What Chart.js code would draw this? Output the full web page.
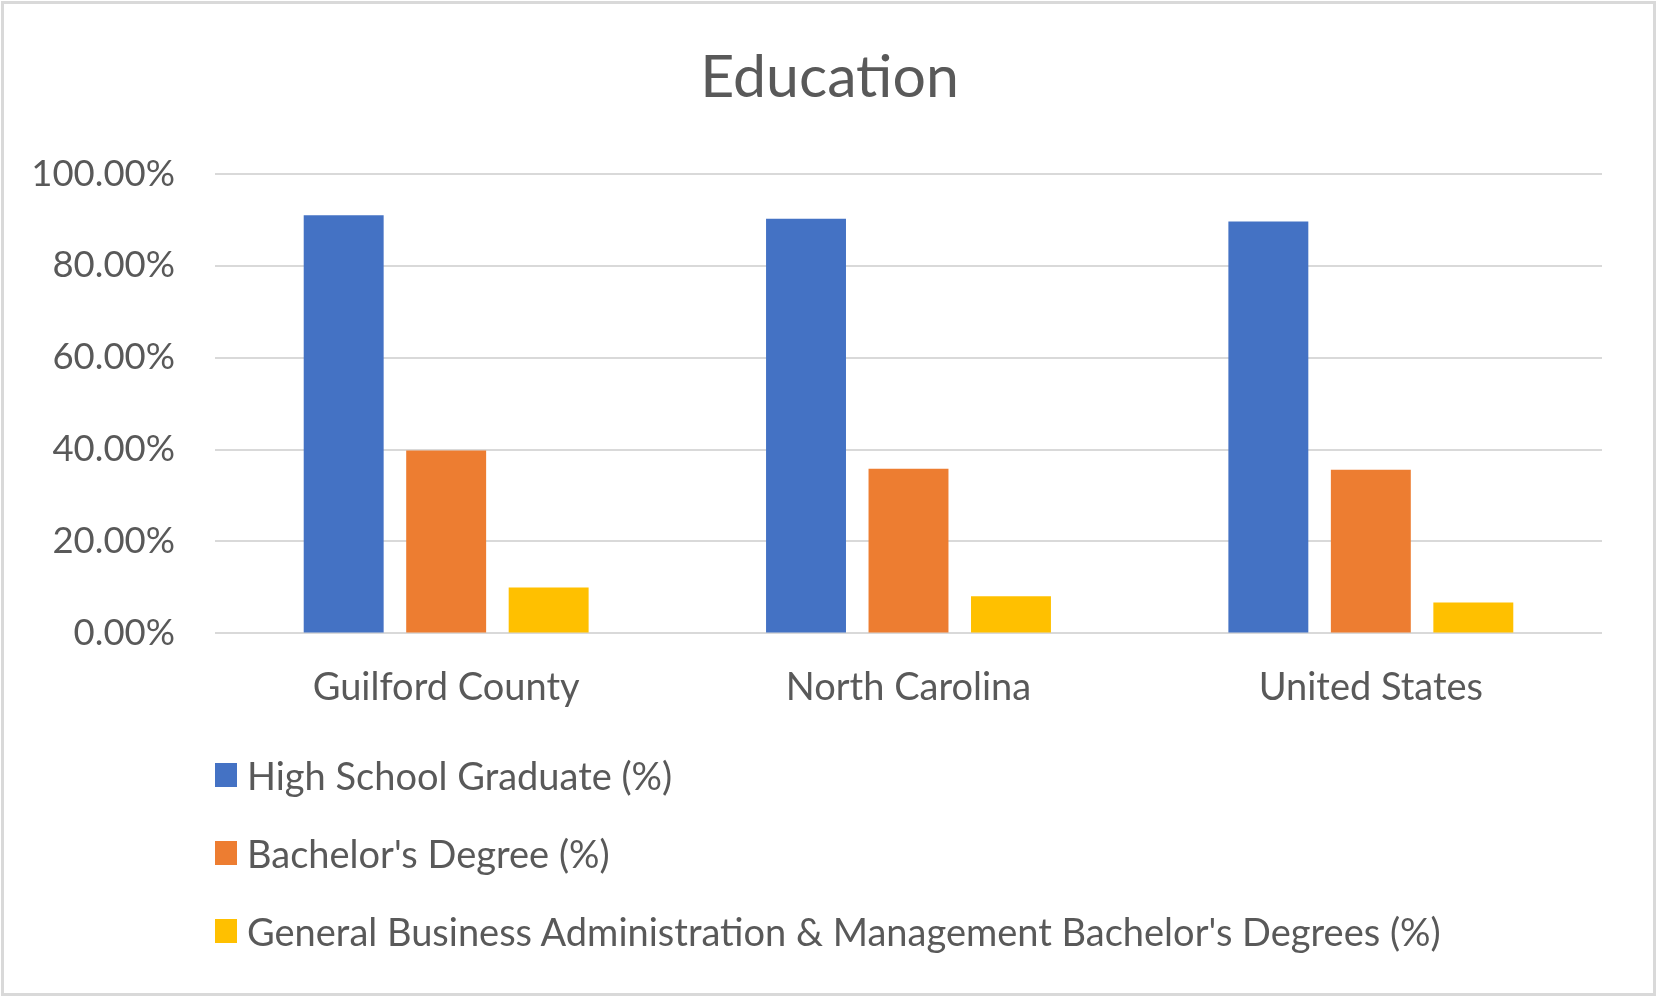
<!DOCTYPE html>
<html>
<head>
<meta charset="utf-8">
<script src="https://cdn.jsdelivr.net/npm/chart.js@4"></script>
<style>
  body { margin: 0; background: #fff; }
  #wrap { position: relative; width: 1659px; height: 999px; }
  #frame {
    position: absolute; left: 1px; top: 1px; width: 1655px; height: 995px;
    box-sizing: border-box; border: 3px solid #d9d9d9; pointer-events: none;
  }
  #legend {
    position: absolute; left: 215px; top: 736px;
    font-family: Lato, sans-serif; font-size: 38px; color: #595959;
  }
  .row { display: flex; align-items: center; height: 78px; }
  .box { width: 22px; height: 24px; margin-right: 10px; }
</style>
</head>
<body>
<div id="wrap">
  <canvas id="eduChart" width="1659" height="999"></canvas>
  <div id="legend"></div>
  <div id="frame"></div>
</div>
<script>
// categorias e valores (em %)
const categories = ['Guilford County', 'North Carolina', 'United States'];
const seriesNames = [
    'High School Graduate (%)',
    "Bachelor's Degree (%)",
    "General Business Administration & Management Bachelor's Degrees (%)"
];
const highSchool = [91.0, 90.2, 89.6];
const bachelors = [39.8, 35.8, 35.6];
const businessAdmin = [10.0, 8.1, 6.7];
const yMin = 0;
const yMax = 100;
const yStep = 20;

const colors = ['#4472C4', '#ED7D31', '#FFC000'];
const textColor = '#595959';

const ctx = document.getElementById('eduChart');
const chart = new Chart(ctx, {
    type: 'bar',
    data: {
        labels: categories,
        datasets: [highSchool, bachelors, businessAdmin].map(function (values, i) {
            return {
                label: seriesNames[i],
                data: values,
                backgroundColor: colors[i],
                borderWidth: 0,
                categoryPercentage: 0.665,
                barPercentage: 0.78
            };
        })
    },
    options: {
        responsive: false,
        animation: false,
        layout: { padding: { left: 0, right: 0, top: 0, bottom: 264 } },
        plugins: {
            legend: { display: false },
            tooltip: { enabled: false },
            title: {
                display: true,
                text: 'Education',
                color: textColor,
                font: { family: 'Lato', size: 59, weight: 'normal' },
                padding: { top: 43, bottom: 60 }
            }
        },
        scales: {
            x: {
                grid: { display: false },
                border: { display: false },
                ticks: {
                    color: textColor,
                    font: { family: 'Lato', size: 38 },
                    padding: 24
                }
            },
            y: {
                min: yMin,
                max: yMax,
                border: { display: false },
                grid: { color: '#d9d9d9', lineWidth: 2, drawTicks: false },
                ticks: {
                    stepSize: yStep,
                    color: textColor,
                    font: { family: 'Lato', size: 36.5 },
                    padding: 40,
                    callback: function (value) { return value.toFixed(2) + '%'; }
                },
                afterFit: function (scale) { scale.width = 215; }
            },
            // eixo vazio só para reservar a margem direita
            yRight: {
                position: 'right',
                min: yMin,
                max: yMax,
                grid: { display: false },
                border: { display: false },
                ticks: { display: false },
                afterFit: function (scale) { scale.width = 57; }
            }
        }
    }
});

// legenda vertical em HTML, gerada a partir dos datasets
const legendEl = document.getElementById('legend');
chart.data.datasets.forEach(function (ds) {
    const row = document.createElement('div');
    row.className = 'row';
    const box = document.createElement('span');
    box.className = 'box';
    box.style.background = ds.backgroundColor;
    const txt = document.createElement('span');
    txt.textContent = ds.label;
    row.appendChild(box);
    row.appendChild(txt);
    legendEl.appendChild(row);
});
</script>
</body>
</html>
